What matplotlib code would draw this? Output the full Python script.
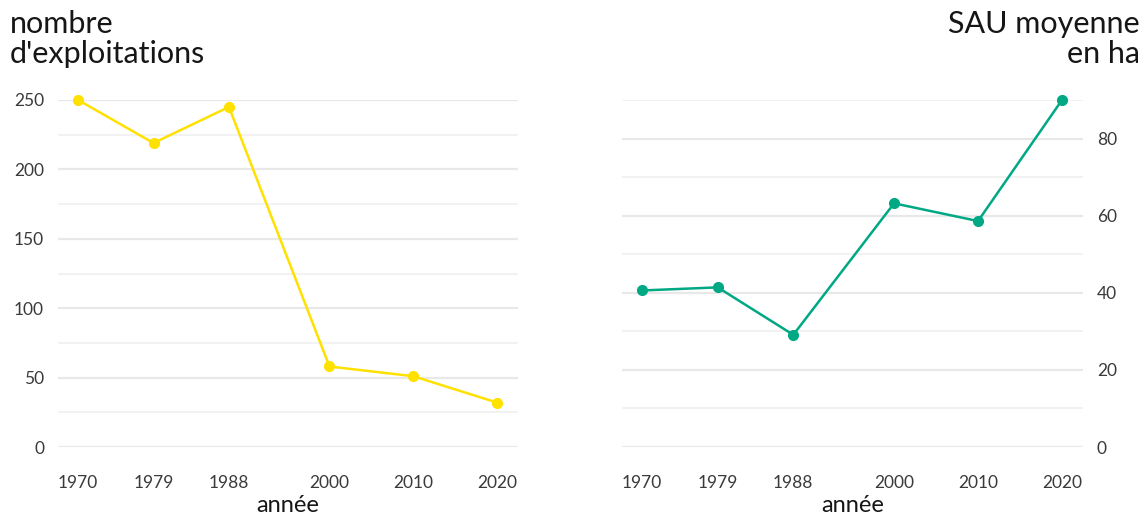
import matplotlib.pyplot as plt

annees = [1970, 1979, 1988, 2000, 2010, 2020]
nb_exploitations = [250, 219, 245, 58, 51, 32]
sau_moyenne = [40.6, 41.4, 29.1, 63.2, 58.6, 90.0]

plt.rcParams["font.family"] = ["Lato", "DejaVu Sans"]

JAUNE = "#FFE100"
VERT = "#00A884"

fig = plt.figure(figsize=(11.45, 5.15), dpi=100)
W, H = 1145, 515


def pos(x0, x1, y_top, y_bot):
    return [x0 / W, 1 - y_bot / H, (x1 - x0) / W, (y_bot - y_top) / H]


def style(ax, ymax, major, right=False):
    ax.set_xlim(1967.6, 2022.5)
    ax.set_ylim(0, ymax)
    ax.set_xticks(annees)
    ax.set_yticks(range(0, ymax + 1, major))
    ax.set_yticks(range(major // 2, ymax + 1, major), minor=True)
    ax.grid(axis="y", which="major", color="#e8e8e8", lw=1.6)
    ax.grid(axis="y", which="minor", color="#f0f0f0", lw=1.2)
    ax.set_axisbelow(True)
    for s in ax.spines.values():
        s.set_visible(False)
    ax.tick_params(axis="both", which="both", length=0, labelsize=12.5,
                   labelcolor="#3a3a3a")
    ax.tick_params(axis="x", pad=20)
    ax.tick_params(axis="y", pad=10)
    if right:
        ax.yaxis.tick_right()
    ax.set_xlabel("année", fontsize=17, labelpad=3, color="#161616")


ax1 = fig.add_axes(pos(58, 518, 100, 447))
ax1.plot(annees, nb_exploitations, color=JAUNE, lw=1.8, marker="o",
         ms=7, clip_on=False, zorder=3)
style(ax1, 250, 50)

ax2 = fig.add_axes(pos(622, 1083, 100, 447))
ax2.plot(annees, sau_moyenne, color=VERT, lw=1.8, marker="o",
         ms=7, clip_on=False, zorder=3)
style(ax2, 90, 20, right=True)
ax2.set_yticks(range(0, 91, 20))
ax2.set_yticks(range(10, 91, 20), minor=True)

fig.text(10 / W, 1 - 10 / H, "nombre\nd'exploitations", ha="left", va="top",
         fontsize=22, color="#161616", linespacing=1.1)
fig.text(1140 / W, 1 - 10 / H, "SAU moyenne\nen ha", ha="right", va="top",
         fontsize=22, color="#161616", linespacing=1.1, multialignment="right")

fig.savefig("out.png", dpi=100)
